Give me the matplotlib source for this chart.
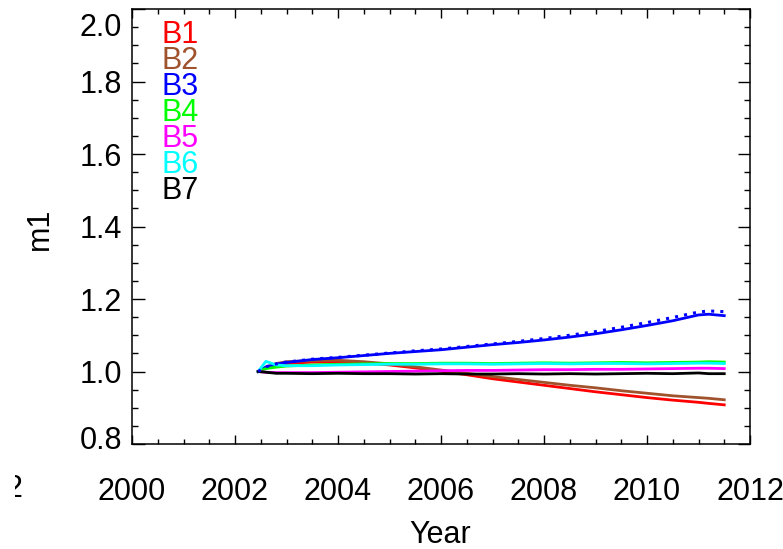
import matplotlib
matplotlib.use("Agg")
import matplotlib.pyplot as plt
from matplotlib.ticker import MultipleLocator
from matplotlib.transforms import ScaledTranslation, Bbox

plt.rcParams['font.family'] = ['Liberation Sans', 'DejaVu Sans']

years = [2002.45, 2002.6, 2002.8, 2003.0, 2003.5, 2004.0, 2004.5, 2005.0,
         2005.5, 2006.0, 2006.5, 2007.0, 2007.5, 2008.0, 2008.5, 2009.0,
         2009.5, 2010.0, 2010.5, 2011.0, 2011.2, 2011.5]

b1 = [1.000, 1.010, 1.018, 1.022, 1.026, 1.027, 1.024, 1.018, 1.010, 1.001, 0.991,
      0.980, 0.971, 0.962, 0.953, 0.944, 0.936, 0.928, 0.921, 0.915, 0.912, 0.908]
b2 = [1.000, 1.012, 1.022, 1.027, 1.030, 1.031, 1.027, 1.021, 1.013, 1.004, 0.995,
      0.986, 0.978, 0.970, 0.962, 0.955, 0.947, 0.940, 0.933, 0.928, 0.926, 0.922]
b3 = [1.000, 1.012, 1.020, 1.025, 1.033, 1.038, 1.044, 1.050, 1.055, 1.060, 1.067,
      1.074, 1.080, 1.087, 1.095, 1.104, 1.115, 1.127, 1.140, 1.156, 1.158, 1.154]
b3_alt = [1.000, 1.013, 1.021, 1.026, 1.034, 1.039, 1.045, 1.051, 1.057, 1.062, 1.069,
          1.076, 1.083, 1.091, 1.100, 1.110, 1.122, 1.135, 1.149, 1.164, 1.167, 1.165]
b4 = [1.000, 1.008, 1.012, 1.015, 1.018, 1.020, 1.021, 1.022, 1.022, 1.023, 1.023,
      1.022, 1.023, 1.024, 1.023, 1.024, 1.025, 1.024, 1.025, 1.026, 1.027, 1.026]
b5 = [1.000, 0.998, 0.997, 0.997, 0.997, 0.998, 0.999, 1.000, 1.001, 1.002, 1.003,
      1.003, 1.004, 1.005, 1.005, 1.006, 1.006, 1.007, 1.008, 1.009, 1.009, 1.008]
b6 = [1.000, 1.028, 1.018, 1.016, 1.016, 1.018, 1.019, 1.020, 1.020, 1.021, 1.021,
      1.020, 1.021, 1.022, 1.021, 1.022, 1.022, 1.021, 1.022, 1.023, 1.023, 1.022]
b7 = [1.000, 0.998, 0.995, 0.995, 0.994, 0.995, 0.994, 0.994, 0.993, 0.994, 0.993,
      0.993, 0.994, 0.993, 0.994, 0.993, 0.994, 0.995, 0.994, 0.996, 0.994, 0.994]

band_names = ['B1', 'B2', 'B3', 'B4', 'B5', 'B6', 'B7']
band_colors = ['#ff0000', '#a0522d', '#0000ff', '#00ff00', '#ff00ff', '#00ffff', '#000000']
band_values = [b1, b2, b3, b4, b5, b6, b7]

x_ticks = [2000, 2002, 2004, 2006, 2008, 2010, 2012]
y_ticks = [0.8, 1.0, 1.2, 1.4, 1.6, 1.8, 2.0]

fig = plt.figure(figsize=(7.83, 5.49), dpi=100)
ax = fig.add_axes([132/783, 105/549, 618/783, 435/549])

for vals, col in zip(band_values, band_colors):
    ax.plot(years, vals, color=col, lw=2.0)
ax.plot(years, b3_alt, color='#0000ff', lw=2.2, ls=(0, (1, 2)))

ax.set_xlim(2000, 2012)
ax.set_ylim(0.8, 2.0)
ax.set_xticks(x_ticks)
ax.set_xticklabels([str(t) for t in x_ticks])
ax.set_yticks(y_ticks)
ax.set_yticklabels(['%.1f' % t for t in y_ticks])
ax.xaxis.set_minor_locator(MultipleLocator(0.5))
ax.yaxis.set_minor_locator(MultipleLocator(0.05))

for sp in ax.spines.values():
    sp.set_linewidth(1.1)
ax.tick_params(which='both', direction='in', top=True, right=True,
               labelsize=22, width=1.0)
ax.tick_params(axis='x', which='major', length=6.5, pad=24)
ax.tick_params(axis='x', which='minor', length=3.5)
ax.tick_params(axis='y', which='major', length=9, pad=7)
ax.tick_params(axis='y', which='minor', length=4.5)

# end labels on the y axis sit inside the frame
ylabels = ax.yaxis.get_major_ticks()
lo, hi = ylabels[0].label1, ylabels[-1].label1
lo.set_transform(lo.get_transform() + ScaledTranslation(0, 0.07, fig.dpi_scale_trans))
hi.set_transform(hi.get_transform() + ScaledTranslation(0, -0.16, fig.dpi_scale_trans))

for i, (name, col) in enumerate(zip(band_names, band_colors)):
    ax.text(0.047, 0.940 - i * 0.0598, name, color=col, fontsize=22,
            transform=ax.transAxes, ha='left', va='center')

fig.text(40/783, 1 - 229/549, 'm1', rotation=90, fontsize=22, ha='center', va='center')
fig.text(440/783, 1 - 535/549, 'Year', fontsize=22, ha='center', va='center')

# stray wrapped label at the far left
stray = fig.text(22/783, 1 - 489/549, '2', fontsize=22, ha='right', va='center')
stray.set_clip_box(Bbox([[15, 0], [40, 549]]))

fig.savefig('out.png', dpi=100)
